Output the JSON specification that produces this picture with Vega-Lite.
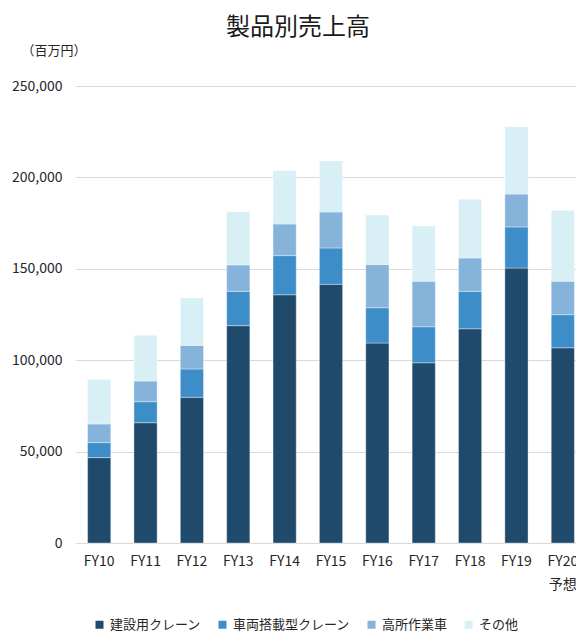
{
  "$schema": "https://vega.github.io/schema/vega-lite/v6.json",
  "autosize": "none",
  "width": 500,
  "height": 457,
  "padding": {"left": 76, "top": 86, "right": 0, "bottom": 89},
  "background": "#ffffff",
  "title": {
    "text": "製品別売上高",
    "font": "Noto Sans CJK JP",
    "fontSize": 24,
    "fontWeight": "normal",
    "color": "#1a1a1a",
    "anchor": "start",
    "frame": "group",
    "dx": 150,
    "offset": 4
  },
  "config": {
    "font": "Noto Sans CJK JP",
    "view": {"stroke": null},
    "axis": {"labelFont": "Noto Sans CJK JP", "titleFont": "Noto Sans CJK JP"}
  },
  "data": {
    "values": [
      {"fy": "FY10", "product": "建設用クレーン", "k": 1, "value": 46700},
      {"fy": "FY10", "product": "車両搭載型クレーン", "k": 2, "value": 8200},
      {"fy": "FY10", "product": "高所作業車", "k": 3, "value": 10200},
      {"fy": "FY10", "product": "その他", "k": 4, "value": 24400},
      {"fy": "FY11", "product": "建設用クレーン", "k": 1, "value": 65800},
      {"fy": "FY11", "product": "車両搭載型クレーン", "k": 2, "value": 11500},
      {"fy": "FY11", "product": "高所作業車", "k": 3, "value": 11300},
      {"fy": "FY11", "product": "その他", "k": 4, "value": 25000},
      {"fy": "FY12", "product": "建設用クレーン", "k": 1, "value": 79700},
      {"fy": "FY12", "product": "車両搭載型クレーン", "k": 2, "value": 15500},
      {"fy": "FY12", "product": "高所作業車", "k": 3, "value": 12900},
      {"fy": "FY12", "product": "その他", "k": 4, "value": 25900},
      {"fy": "FY13", "product": "建設用クレーン", "k": 1, "value": 118900},
      {"fy": "FY13", "product": "車両搭載型クレーン", "k": 2, "value": 18800},
      {"fy": "FY13", "product": "高所作業車", "k": 3, "value": 14400},
      {"fy": "FY13", "product": "その他", "k": 4, "value": 29100},
      {"fy": "FY14", "product": "建設用クレーン", "k": 1, "value": 135800},
      {"fy": "FY14", "product": "車両搭載型クレーン", "k": 2, "value": 21400},
      {"fy": "FY14", "product": "高所作業車", "k": 3, "value": 17300},
      {"fy": "FY14", "product": "その他", "k": 4, "value": 29200},
      {"fy": "FY15", "product": "建設用クレーン", "k": 1, "value": 141500},
      {"fy": "FY15", "product": "車両搭載型クレーン", "k": 2, "value": 19900},
      {"fy": "FY15", "product": "高所作業車", "k": 3, "value": 19700},
      {"fy": "FY15", "product": "その他", "k": 4, "value": 27900},
      {"fy": "FY16", "product": "建設用クレーン", "k": 1, "value": 109400},
      {"fy": "FY16", "product": "車両搭載型クレーン", "k": 2, "value": 19300},
      {"fy": "FY16", "product": "高所作業車", "k": 3, "value": 23600},
      {"fy": "FY16", "product": "その他", "k": 4, "value": 27100},
      {"fy": "FY17", "product": "建設用クレーン", "k": 1, "value": 98600},
      {"fy": "FY17", "product": "車両搭載型クレーン", "k": 2, "value": 19700},
      {"fy": "FY17", "product": "高所作業車", "k": 3, "value": 24900},
      {"fy": "FY17", "product": "その他", "k": 4, "value": 30200},
      {"fy": "FY18", "product": "建設用クレーン", "k": 1, "value": 117200},
      {"fy": "FY18", "product": "車両搭載型クレーン", "k": 2, "value": 20500},
      {"fy": "FY18", "product": "高所作業車", "k": 3, "value": 18200},
      {"fy": "FY18", "product": "その他", "k": 4, "value": 32100},
      {"fy": "FY19", "product": "建設用クレーン", "k": 1, "value": 150400},
      {"fy": "FY19", "product": "車両搭載型クレーン", "k": 2, "value": 22500},
      {"fy": "FY19", "product": "高所作業車", "k": 3, "value": 18000},
      {"fy": "FY19", "product": "その他", "k": 4, "value": 36800},
      {"fy": "FY20", "product": "建設用クレーン", "k": 1, "value": 106800},
      {"fy": "FY20", "product": "車両搭載型クレーン", "k": 2, "value": 18100},
      {"fy": "FY20", "product": "高所作業車", "k": 3, "value": 18300},
      {"fy": "FY20", "product": "その他", "k": 4, "value": 38800}
    ]
  },
  "mark": {"type": "bar", "stroke": "#ffffff", "strokeWidth": 0.6, "strokeOpacity": 0.6},
  "encoding": {
    "x": {
      "field": "fy",
      "type": "nominal",
      "sort": null,
      "scale": {"range": [0, 510], "paddingInner": 0.5, "paddingOuter": 0.25},
      "axis": {
        "title": null,
        "labelAngle": 0,
        "labelFontSize": 14,
        "labelColor": "#262626",
        "labelPadding": 11,
        "labelLineHeight": 23,
        "labelExpr": "datum.value == 'FY20' ? ['FY20', '予想'] : datum.value",
        "ticks": false,
        "domainColor": "#d9d9d9",
        "domainWidth": 1,
        "grid": false
      }
    },
    "y": {
      "field": "value",
      "type": "quantitative",
      "aggregate": "sum",
      "stack": "zero",
      "scale": {"domain": [0, 250000], "nice": false},
      "axis": {
        "title": "（百万円）",
        "titleAngle": 0,
        "titleAlign": "left",
        "titleBaseline": "middle",
        "titleX": -55,
        "titleY": -36,
        "titleFontSize": 13,
        "titleFontWeight": "normal",
        "titleColor": "#262626",
        "values": [0, 50000, 100000, 150000, 200000, 250000],
        "format": ",d",
        "labelFontSize": 14,
        "labelColor": "#262626",
        "labelPadding": 14,
        "ticks": false,
        "domain": false,
        "gridColor": "#d9d9d9",
        "gridWidth": 1
      }
    },
    "color": {
      "field": "product",
      "type": "nominal",
      "scale": {
        "domain": ["建設用クレーン", "車両搭載型クレーン", "高所作業車", "その他"],
        "range": ["#1f4a6b", "#3d8dc9", "#85b3da", "#d8eff5"]
      },
      "legend": {
        "title": null,
        "orient": "none",
        "direction": "horizontal",
        "legendX": 17,
        "legendY": 532,
        "symbolType": "square",
        "symbolSize": 64,
        "symbolStrokeWidth": 0,
        "labelFontSize": 13,
        "labelColor": "#262626",
        "labelOffset": 4,
        "columnPadding": 14
      }
    },
    "order": {"field": "k", "type": "quantitative", "sort": "ascending"}
  }
}
